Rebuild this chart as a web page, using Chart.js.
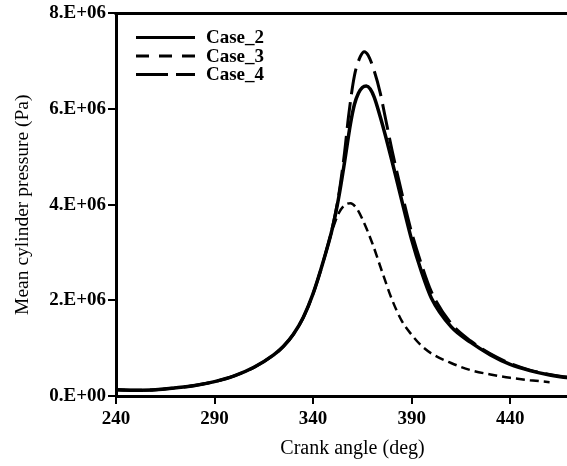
<!DOCTYPE html>
<html>
<head>
<meta charset="utf-8">
<script src="https://cdn.jsdelivr.net/npm/chart.js@4.4.1/dist/chart.umd.min.js"></script>
<style>
  html, body { margin: 0; padding: 0; background: #fff; overflow: hidden; }
  #wrap { width: 600px; height: 466px; }
</style>
</head>
<body>
<div id="wrap"><canvas id="pressureChart"></canvas></div>
<script>
// crank angle (deg) and mean cylinder pressure (Pa) for each case
const case2Angle = [240, 250, 260, 270, 280, 290, 300, 310, 320, 325, 330, 335, 340, 345, 350, 353, 356, 359, 361, 363, 365, 367, 369, 371, 374, 377, 380, 383, 386, 390, 395, 400, 410, 420, 430, 440, 450, 460, 470, 480];
const case2Pressure = [0.13e6, 0.12e6, 0.13e6, 0.17e6, 0.22e6, 0.30e6, 0.42e6, 0.60e6, 0.86e6, 1.04e6, 1.29e6, 1.64e6, 2.14e6, 2.79e6, 3.54e6, 4.15e6, 4.90e6, 5.70e6, 6.10e6, 6.33e6, 6.45e6, 6.48e6, 6.42e6, 6.25e6, 5.85e6, 5.40e6, 4.92e6, 4.42e6, 3.92e6, 3.27e6, 2.60e6, 2.05e6, 1.45e6, 1.12e6, 0.86e6, 0.66e6, 0.53e6, 0.44e6, 0.38e6, 0.34e6];

const case3Angle = [240, 250, 260, 270, 280, 290, 300, 310, 320, 325, 330, 335, 340, 345, 350, 353, 356, 359, 362, 365, 370, 375, 380, 385, 390, 395, 400, 410, 420, 430, 440, 450, 460];
const case3Pressure = [0.13e6, 0.12e6, 0.13e6, 0.17e6, 0.22e6, 0.30e6, 0.42e6, 0.60e6, 0.86e6, 1.04e6, 1.29e6, 1.64e6, 2.14e6, 2.79e6, 3.50e6, 3.82e6, 3.99e6, 4.03e6, 3.93e6, 3.70e6, 3.20e6, 2.60e6, 2.02e6, 1.57e6, 1.28e6, 1.05e6, 0.89e6, 0.69e6, 0.54e6, 0.45e6, 0.38e6, 0.33e6, 0.29e6];

const case4Angle = [240, 250, 260, 270, 280, 290, 300, 310, 320, 325, 330, 335, 340, 345, 350, 353, 356, 358, 361, 364, 366, 368, 371, 374, 377, 380, 385, 390, 395, 400, 410, 420, 430, 440, 450, 460, 470, 480];
const case4Pressure = [0.13e6, 0.12e6, 0.13e6, 0.17e6, 0.22e6, 0.30e6, 0.42e6, 0.60e6, 0.86e6, 1.04e6, 1.29e6, 1.64e6, 2.14e6, 2.79e6, 3.56e6, 4.20e6, 5.10e6, 5.85e6, 6.70e6, 7.10e6, 7.20e6, 7.12e6, 6.80e6, 6.35e6, 5.75e6, 5.15e6, 4.25e6, 3.42e6, 2.75e6, 2.18e6, 1.52e6, 1.15e6, 0.88e6, 0.68e6, 0.54e6, 0.45e6, 0.39e6, 0.35e6];

const seriesNames = ['Case_2', 'Case_3', 'Case_4'];

const angleTicks = [240, 290, 340, 390, 440];
const pressureTicks = [0, 2e6, 4e6, 6e6, 8e6];
const pressureTickLabels = ['0.E+00', '2.E+06', '4.E+06', '6.E+06', '8.E+06'];

const toPoints = (xs, ys) => xs.map((x, i) => ({x: x, y: ys[i]}));

Chart.defaults.font.family = '"Liberation Serif", "Times New Roman", serif';
Chart.defaults.color = '#000';

// top frame line plus the legend block in the upper-left corner
const frameAndLegend = {
  id: 'frameAndLegend',
  afterDraw(chart) {
    const {ctx, chartArea} = chart;
    ctx.save();
    ctx.strokeStyle = '#000';
    ctx.lineWidth = 3;
    ctx.beginPath();
    ctx.moveTo(chartArea.left - 1.5, chartArea.top);
    ctx.lineTo(chartArea.right + 20, chartArea.top);
    ctx.stroke();

    ctx.font = 'bold 19px "Liberation Serif"';
    ctx.textBaseline = 'middle';
    ctx.fillStyle = '#000';
    chart.data.datasets.forEach((ds, i) => {
      const y = chartArea.top + 24 + i * 18.5;
      const x0 = chartArea.left + 20;
      ctx.lineWidth = 3;
      ctx.setLineDash(ds.legendDash);
      ctx.beginPath();
      ctx.moveTo(x0, y);
      ctx.lineTo(x0 + 59, y);
      ctx.stroke();
      ctx.setLineDash([]);
      ctx.fillText(ds.label, x0 + 70, y + 1);
    });
    ctx.restore();
  }
};

const ctx = document.getElementById('pressureChart');
new Chart(ctx, {
  type: 'line',
  data: {
    datasets: [{
      label: seriesNames[0],
      data: toPoints(case2Angle, case2Pressure),
      borderColor: '#000',
      borderWidth: 3.5,
      legendDash: [],
    }, {
      label: seriesNames[1],
      data: toPoints(case3Angle, case3Pressure),
      borderColor: '#000',
      borderWidth: 2.5,
      borderDash: [9, 5],
      legendDash: [13, 10],
    }, {
      label: seriesNames[2],
      data: toPoints(case4Angle, case4Pressure),
      borderColor: '#000',
      borderWidth: 3,
      borderDash: [26, 8],
      legendDash: [32, 8],
    }]
  },
  options: {
    responsive: true,
    maintainAspectRatio: false,
    animation: false,
    devicePixelRatio: 1,
    layout: { padding: { top: 12, right: 11, bottom: 0, left: 0 } },
    elements: {
      point: { radius: 0 },
      line: { cubicInterpolationMode: 'monotone', fill: false }
    },
    plugins: {
      legend: { display: false },
      tooltip: { enabled: false }
    },
    scales: {
      x: {
        type: 'linear',
        position: 'bottom',
        min: 240,
        max: 480,
        afterBuildTicks: s => { s.ticks = angleTicks.map(v => ({value: v})); },
        afterFit: s => { s.height = 70; },
        ticks: {
          font: { size: 19, weight: 'bold' },
          color: '#000',
          padding: 4,
          maxRotation: 0,
          callback: v => String(v)
        },
        grid: { drawOnChartArea: false, drawTicks: true, tickLength: 8, color: '#000', lineWidth: 2 },
        border: { color: '#000', width: 3 },
        title: {
          display: true,
          text: 'Crank angle (deg)',
          font: { size: 20 },
          color: '#000',
          padding: { top: 0, bottom: 5 }
        }
      },
      y: {
        min: 0,
        max: 8e6,
        afterBuildTicks: s => { s.ticks = pressureTicks.map(v => ({value: v})); },
        afterFit: s => { s.width = 116; },
        ticks: {
          font: { size: 19, weight: 'bold' },
          color: '#000',
          padding: 2,
          callback: (v, i) => pressureTickLabels[i]
        },
        grid: { drawOnChartArea: false, drawTicks: true, tickLength: 8, color: '#000', lineWidth: 2 },
        border: { color: '#000', width: 3 },
        title: {
          display: true,
          text: 'Mean cylinder pressure (Pa)',
          font: { size: 19.5 },
          color: '#000',
          padding: { top: 11, bottom: 0 }
        }
      }
    }
  },
  plugins: [frameAndLegend]
});
</script>
</body>
</html>
